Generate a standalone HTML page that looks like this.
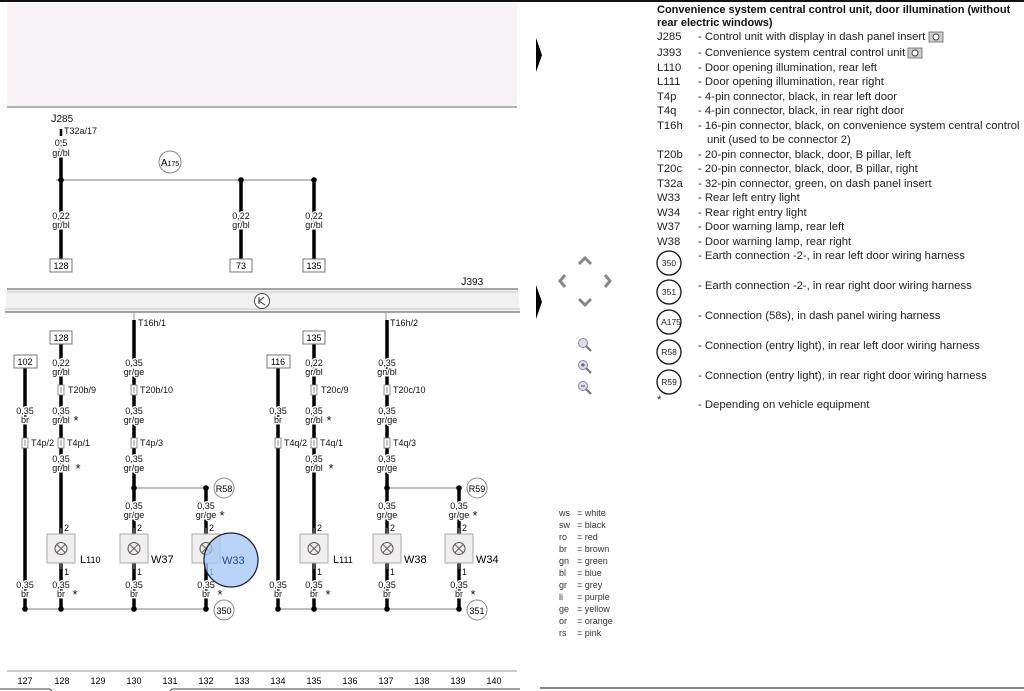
<!DOCTYPE html>
<html><head><meta charset="utf-8"><style>
html,body{margin:0;padding:0;background:#fff;}
svg{display:block;font-family:"Liberation Sans",sans-serif;}
.l{font-size:9px;fill:#111;text-anchor:middle;paint-order:stroke;stroke:#fff;stroke-width:3px;}
.s{font-size:13px;fill:#111;text-anchor:middle;}
.t{font-size:11px;fill:#111;}
.r{font-size:11.3px;fill:#222;}
.w{stroke:#000;stroke-width:3.5;}
.g{stroke:#999;stroke-width:1.2;}
.bx{fill:#fff;stroke:#777;stroke-width:1;}
.lb{fill:#f0eeee;stroke:#aaa;stroke-width:1;}
.c{fill:#fff;stroke:#888;stroke-width:1;}
</style></head><body>
<svg width="1024" height="691" viewBox="0 0 1024 691" xmlns="http://www.w3.org/2000/svg">
<defs>
<g id="conn"><rect x="-3" y="-5" width="6" height="10" fill="#fff" stroke="#777" stroke-width="0.8"/><line x1="0" y1="-3" x2="0" y2="3" stroke="#777" stroke-width="0.8"/></g>
<g id="lamp"><rect class="lb" x="-14" y="0" width="28" height="29"/><circle cx="0" cy="14.5" r="6" fill="none" stroke="#555" stroke-width="1"/><line x1="-4.2" y1="10.3" x2="4.2" y2="18.7" stroke="#555"/><line x1="4.2" y1="10.3" x2="-4.2" y2="18.7" stroke="#555"/><line x1="0" y1="-6" x2="0" y2="0" stroke="#999"/><line x1="0" y1="29" x2="0" y2="35" stroke="#999"/></g>
</defs>
<rect x="0" y="0" width="1024" height="2" fill="#111"/>
<rect x="7" y="3" width="510" height="103" fill="#f8f3f6"/>
<line x1="7" y1="107" x2="517" y2="107" stroke="#999" stroke-width="1.5"/>
<polygon points="536,38 542,55 536,72" fill="#000"/>
<polygon points="536,285 542,302 536,319" fill="#000"/>

<text class="t" x="51" y="122">J<tspan font-size="10">285</tspan></text>
<text class="l" x="64" y="134" style="text-anchor:start">T32a/17</text>
<line x1="61" y1="129" x2="61" y2="136" class="w" style="stroke-width:2.5"/>
<line x1="61" y1="140" x2="61" y2="260" class="w"/>
<line x1="56" y1="180" x2="314" y2="180" class="g"/>
<line x1="241" y1="180" x2="241" y2="260" class="w"/>
<line x1="314" y1="180" x2="314" y2="260" class="w"/>
<circle cx="61" cy="180" r="2.8"/><circle cx="241" cy="180" r="2.8"/><circle cx="314" cy="180" r="2.8"/>
<text class="l" x="61" y="146">0,5</text><text class="l" x="61" y="156">gr/bl</text>
<text class="l" x="61" y="219">0,22</text><text class="l" x="61" y="228">gr/bl</text>
<text class="l" x="241" y="219">0,22</text><text class="l" x="241" y="228">gr/bl</text>
<text class="l" x="314" y="219">0,22</text><text class="l" x="314" y="228">gr/bl</text>
<circle class="c" cx="170" cy="162" r="11"/><text x="170" y="166" font-size="10" text-anchor="middle">A<tspan font-size="7">175</tspan></text>
<rect class="bx" x="50" y="259" width="22" height="13"/><text x="61" y="269" font-size="9" text-anchor="middle">128</text>
<rect class="bx" x="230" y="259" width="22" height="13"/><text x="241" y="269" font-size="9" text-anchor="middle">73</text>
<rect class="bx" x="303" y="259" width="22" height="13"/><text x="314" y="269" font-size="9" text-anchor="middle">135</text>

<text class="t" x="461" y="285">J<tspan font-size="10">393</tspan></text>
<polygon points="7,289 518,289 520,312 5,312" fill="#f1f1f1"/>
<line x1="7" y1="289" x2="518" y2="289" stroke="#888" stroke-width="1.5"/>
<line x1="7" y1="292" x2="518" y2="292" stroke="#bbb" stroke-width="0.8"/>
<line x1="5" y1="312" x2="520" y2="312" stroke="#888" stroke-width="1.5"/>
<line x1="5" y1="309" x2="520" y2="309" stroke="#bbb" stroke-width="0.8"/>
<circle cx="262" cy="301" r="7.5" fill="#fff" stroke="#444"/><path d="M259,297 L259,304 M259,301 L264,297 M259,301 L265,305" stroke="#333" fill="none" stroke-width="1"/>

<g>
<line x1="134" y1="312" x2="134" y2="320" stroke="#999"/>
<line x1="386" y1="312" x2="386" y2="320" stroke="#999"/>
<text class="l" x="138" y="326" style="text-anchor:start">T16h/1</text>
<text class="l" x="390" y="326" style="text-anchor:start">T16h/2</text>
</g>

<g id="grp">
<line x1="25" y1="368" x2="25" y2="609" class="w"/>
<line x1="61" y1="344" x2="61" y2="534" class="w"/>
<line x1="61" y1="563" x2="61" y2="609" class="w"/>
<line x1="134" y1="320" x2="134" y2="534" class="w"/>
<line x1="134" y1="563" x2="134" y2="609" class="w"/>
<line x1="206" y1="488" x2="206" y2="534" class="w"/>
<line x1="206" y1="563" x2="206" y2="609" class="w"/>
<line x1="134" y1="488" x2="206" y2="488" class="g"/>
<line x1="25" y1="609" x2="206" y2="609" class="g"/>
<circle cx="134" cy="488" r="2.8"/><circle cx="206" cy="488" r="2.8"/>
<circle cx="25" cy="609" r="2.8"/><circle cx="61" cy="609" r="2.8"/><circle cx="134" cy="609" r="2.8"/><circle cx="206" cy="609" r="2.8"/>
<use href="#lamp" x="61" y="534"/><use href="#lamp" x="134" y="534"/><use href="#lamp" x="206" y="534"/>
<text class="l" x="64" y="531" style="text-anchor:start">2</text><text class="l" x="137" y="531" style="text-anchor:start">2</text><text class="l" x="209" y="531" style="text-anchor:start">2</text>
<text class="l" x="64" y="575" style="text-anchor:start">1</text><text class="l" x="137" y="575" style="text-anchor:start">1</text><text class="l" x="209" y="575" style="text-anchor:start">1</text>
<use href="#conn" x="25" y="443"/><use href="#conn" x="61" y="443"/><use href="#conn" x="134" y="443"/>
<use href="#conn" x="61" y="390"/><use href="#conn" x="134" y="390"/>
<text class="l" x="25" y="414">0,35</text><text class="l" x="25" y="423">br</text>
<text class="l" x="25" y="588">0,35</text><text class="l" x="25" y="597">br</text>
<text class="l" x="134" y="414">0,35</text><text class="l" x="134" y="423">gr/ge</text>
<text class="l" x="134" y="462">0,35</text><text class="l" x="134" y="471">gr/ge</text>
<text class="l" x="134" y="509">0,35</text><text class="l" x="134" y="518">gr/ge</text>
<text class="l" x="134" y="588">0,35</text><text class="l" x="134" y="597">br</text>
<text class="l" x="61" y="414">0,35</text><text class="l" x="61" y="423">gr/bl</text><text class="s" x="76" y="425">*</text>
<text class="l" x="61" y="462">0,35</text><text class="l" x="61" y="471">gr/bl</text><text class="s" x="78" y="473">*</text>
<text class="l" x="61" y="588">0,35</text><text class="l" x="61" y="597">br</text><text class="s" x="75" y="599">*</text>
<text class="l" x="206" y="509">0,35</text><text class="l" x="206" y="518">gr/ge</text><text class="s" x="222" y="520">*</text>
<text class="l" x="206" y="588">0,35</text><text class="l" x="206" y="597">br</text><text class="s" x="220" y="599">*</text>
</g>
<use href="#grp" x="253" y="0"/>

<rect class="bx" x="14" y="355" width="23" height="13"/><text x="25" y="365" font-size="9" text-anchor="middle">102</text>
<rect class="bx" x="50" y="331" width="22" height="13"/><text x="61" y="341" font-size="9" text-anchor="middle">128</text>
<text class="l" x="61" y="366">0,22</text><text class="l" x="61" y="375">gr/bl</text>
<text class="l" x="134" y="366">0,35</text><text class="l" x="134" y="375">gr/ge</text>
<text class="l" x="68" y="393" style="text-anchor:start">T20b/9</text>
<text class="l" x="140" y="393" style="text-anchor:start">T20b/10</text>
<text class="l" x="31" y="446" style="text-anchor:start">T4p/2</text>
<text class="l" x="67" y="446" style="text-anchor:start">T4p/1</text>
<text class="l" x="140" y="446" style="text-anchor:start">T4p/3</text>
<text x="80" y="563" font-size="11">L<tspan font-size="9">110</tspan></text>
<text x="151" y="563" font-size="11">W37</text>
<circle class="c" cx="224" cy="488" r="10"/><text x="224" y="492" font-size="9" text-anchor="middle">R58</text>
<circle class="c" cx="224" cy="610" r="10"/><text x="224" y="614" font-size="9" text-anchor="middle">350</text>

<rect class="bx" x="267" y="355" width="23" height="13"/><text x="278" y="365" font-size="9" text-anchor="middle">116</text>
<rect class="bx" x="303" y="331" width="22" height="13"/><text x="314" y="341" font-size="9" text-anchor="middle">135</text>
<text class="l" x="314" y="366">0,22</text><text class="l" x="314" y="375">gr/bl</text>
<text class="l" x="387" y="366">0,35</text><text class="l" x="387" y="375">gn/bl</text>
<text class="l" x="321" y="393" style="text-anchor:start">T20c/9</text>
<text class="l" x="393" y="393" style="text-anchor:start">T20c/10</text>
<text class="l" x="284" y="446" style="text-anchor:start">T4q/2</text>
<text class="l" x="320" y="446" style="text-anchor:start">T4q/1</text>
<text class="l" x="393" y="446" style="text-anchor:start">T4q/3</text>
<text x="333" y="563" font-size="11">L<tspan font-size="9">111</tspan></text>
<text x="404" y="563" font-size="11">W38</text>
<text x="476" y="563" font-size="11">W34</text>
<circle class="c" cx="477" cy="488" r="10"/><text x="477" y="492" font-size="9" text-anchor="middle">R59</text>
<circle class="c" cx="477" cy="610" r="10"/><text x="477" y="614" font-size="9" text-anchor="middle">351</text>

<circle cx="231" cy="560" r="27" fill="rgba(160,198,245,0.75)" stroke="#223" stroke-width="1.3"/>
<text x="222" y="564" font-size="11" fill="#2a4a8a">W33</text>

<line x1="7" y1="671" x2="517" y2="671" stroke="#aaa" stroke-width="1.2"/>
<g font-size="9" text-anchor="middle">
<text x="25" y="684">127</text><text x="62" y="684">128</text><text x="98" y="684">129</text><text x="134" y="684">130</text><text x="170" y="684">131</text><text x="206" y="684">132</text><text x="242" y="684">133</text><text x="278" y="684">134</text><text x="314" y="684">135</text><text x="350" y="684">136</text><text x="386" y="684">137</text><text x="422" y="684">138</text><text x="458" y="684">139</text><text x="494" y="684">140</text>
</g>
<path d="M0,689 L50,689 L52,691 M170,691 L172,689 L520,689" stroke="#444" fill="none"/>

<g font-size="9" fill="#333">
<text x="559" y="516">ws</text><text x="559" y="528">sw</text><text x="559" y="540">ro</text><text x="559" y="552">br</text><text x="559" y="564">gn</text><text x="559" y="576">bl</text><text x="559" y="588">gr</text><text x="559" y="600">li</text><text x="559" y="612">ge</text><text x="559" y="624">or</text><text x="559" y="636">rs</text>
<text x="577" y="516">=  white</text><text x="577" y="528">=  black</text><text x="577" y="540">=  red</text><text x="577" y="552">=  brown</text><text x="577" y="564">=  green</text><text x="577" y="576">=  blue</text><text x="577" y="588">=  grey</text><text x="577" y="600">=  purple</text><text x="577" y="612">=  yellow</text><text x="577" y="624">=  orange</text><text x="577" y="636">=  pink</text>
</g>
<line x1="540" y1="688" x2="1024" y2="688" stroke="#888" stroke-width="2"/>

<g fill="none" stroke="#888" stroke-width="3">
<path d="M579,264 L585,258 L591,264"/><path d="M579,299 L585,305 L591,299"/>
<path d="M565,275 L560,281 L565,287"/><path d="M605,275 L610,281 L605,287"/>
</g>
<g stroke="#889" fill="#dde" stroke-width="1">
<circle cx="583" cy="343" r="4.5"/><circle cx="583" cy="365" r="4.5"/><circle cx="583" cy="386" r="4.5"/>
</g>
<g stroke="#777" stroke-width="2.2"><path d="M586,346 L591,351 M586,368 L591,373 M586,389 L591,394"/></g>
<path d="M581,365 h4 M583,363 v4 M581,386 h4" stroke="#444" stroke-width="0.9"/>

<text x="657" y="13" font-size="11" font-weight="bold" fill="#111">Convenience system central control unit, door illumination (without</text>
<text x="657" y="26" font-size="11" font-weight="bold" fill="#111">rear electric windows)</text>
<g class="r">
<text x="657" y="40">J285</text><text x="698" y="40">-  Control unit with display in dash panel insert</text>
<text x="657" y="56">J393</text><text x="698" y="56">-  Convenience system central control unit</text>
<text x="657" y="71">L110</text><text x="698" y="71">-  Door opening illumination, rear left</text>
<text x="657" y="85">L111</text><text x="698" y="85">-  Door opening illumination, rear right</text>
<text x="657" y="100">T4p</text><text x="698" y="100">-  4-pin connector, black, in rear left door</text>
<text x="657" y="114">T4q</text><text x="698" y="114">-  4-pin connector, black, in rear right door</text>
<text x="657" y="129">T16h</text><text x="698" y="129">-  16-pin connector, black, on convenience system central control</text>
<text x="707" y="143">unit (used to be connector 2)</text>
<text x="657" y="158">T20b</text><text x="698" y="158">-  20-pin connector, black, door, B pillar, left</text>
<text x="657" y="172">T20c</text><text x="698" y="172">-  20-pin connector, black, door, B pillar, right</text>
<text x="657" y="187">T32a</text><text x="698" y="187">-  32-pin connector, green, on dash panel insert</text>
<text x="657" y="201">W33</text><text x="698" y="201">-  Rear left entry light</text>
<text x="657" y="216">W34</text><text x="698" y="216">-  Rear right entry light</text>
<text x="657" y="230">W37</text><text x="698" y="230">-  Door warning lamp, rear left</text>
<text x="657" y="245">W38</text><text x="698" y="245">-  Door warning lamp, rear right</text>
<text x="698" y="259">-  Earth connection -2-, in rear left door wiring harness</text>
<text x="698" y="289">-  Earth connection -2-, in rear right door wiring harness</text>
<text x="698" y="319">-  Connection (58s), in dash panel wiring harness</text>
<text x="698" y="349">-  Connection (entry light), in rear left door wiring harness</text>
<text x="698" y="379">-  Connection (entry light), in rear right door wiring harness</text>
<text x="657" y="403">*</text><text x="698" y="408">-  Depending on vehicle equipment</text>
</g>
<g fill="#fff" stroke="#111" stroke-width="1.3">
<circle cx="669" cy="263" r="12"/><circle cx="669" cy="292" r="12"/><circle cx="669" cy="322" r="12"/><circle cx="669" cy="352" r="12"/><circle cx="669" cy="382" r="12"/>
</g>
<g font-size="8.5" text-anchor="middle" fill="#222">
<text x="669" y="266">350</text><text x="669" y="295">351</text><text x="671" y="325">A175</text><text x="669" y="355">R58</text><text x="669" y="385">R59</text>
</g>
<g fill="#ccc" stroke="#666" stroke-width="0.8">
<rect x="929" y="32" width="14" height="10"/><rect x="908" y="48" width="14" height="10"/>
</g>
<g fill="#fff" stroke="#444"><circle cx="936" cy="37" r="3"/><circle cx="915" cy="53" r="3"/></g>
</svg>
</body></html>
